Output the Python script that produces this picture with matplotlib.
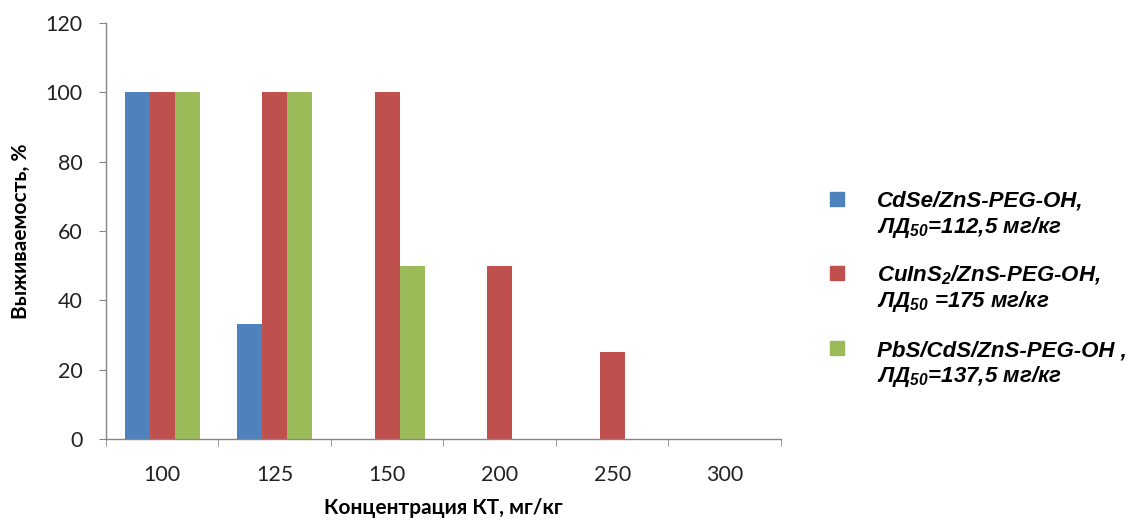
import matplotlib
matplotlib.use("Agg")
import matplotlib.pyplot as plt
import numpy as np
from matplotlib.patches import Rectangle

# survival per dose group
doses = ["100", "125", "150", "200", "250", "300"]
cdse = [100, 33.3, 0, 0, 0, 0]
cuins = [100, 100, 100, 50, 25, 0]
pbs = [100, 100, 50, 0, 0, 0]

series_colors = ["#4F81BD", "#C0504D", "#9BBB59"]
series_labels = [
    ("CdSe/ZnS-PEG-OH,", "ЛД$_{50}$=112,5 мг/кг"),
    ("CuInS$_2$/ZnS-PEG-OH,", "ЛД$_{50}$ =175 мг/кг"),
    ("PbS/CdS/ZnS-PEG-OH ,", "ЛД$_{50}$=137,5 мг/кг"),
]

plt.rcParams["mathtext.fontset"] = "custom"
plt.rcParams["mathtext.rm"] = "Liberation Sans:bold:italic"
plt.rcParams["mathtext.it"] = "Liberation Sans:bold:italic"
plt.rcParams["mathtext.bf"] = "Liberation Sans:bold:italic"

axis_gray = "#868686"
tick_font = "Lato"

fig = plt.figure(figsize=(11.48, 5.24), dpi=100)
ax = fig.add_axes([0.0923, 0.1622, 0.588, 0.794])

x = np.arange(len(doses))
w = 2 / 9
for k, (vals, col) in enumerate(zip([cdse, cuins, pbs], series_colors)):
    ax.bar(x + (k - 1) * w, vals, width=w, color=col, zorder=2)

ax.set_xlim(-0.5, len(doses) - 0.5)
ax.set_ylim(0, 120)
ax.set_yticks(np.arange(0, 121, 20))
ax.set_xticks(x)
ax.set_xticklabels(doses)
ax.set_xticks(np.arange(-0.5, len(doses)), minor=True)

for s in ["top", "right"]:
    ax.spines[s].set_visible(False)
for s in ["left", "bottom"]:
    ax.spines[s].set_color(axis_gray)
    ax.spines[s].set_linewidth(1.0)

ax.tick_params(axis="x", which="major", length=0, pad=19, labelsize=15.5, labelcolor="#222222")
ax.tick_params(axis="x", which="minor", length=5, color=axis_gray)
ax.tick_params(axis="y", length=5, color=axis_gray, pad=12, labelsize=15.5, labelcolor="#222222")
for lbl in ax.get_xticklabels() + ax.get_yticklabels():
    lbl.set_fontfamily(tick_font)

ax.set_ylabel("Выживаемость, %", fontsize=15, fontweight="bold", family=tick_font, labelpad=10)
ax.set_xlabel("Концентрация КТ, мг/кг", fontsize=15, fontweight="bold", family=tick_font, labelpad=9)

# legend drawn by hand so the swatch sits on the first line of text
ys = [199, 273, 348]
for (l1, l2), col, yp in zip(series_labels, series_colors, ys):
    fy = 1 - yp / 524
    fig.add_artist(Rectangle((830 / 1148, fy - 7 / 524), 14 / 1148, 14 / 524,
                             transform=fig.transFigure, color=col))
    for line, base in [(l1, yp + 8), (l2, yp + 34)]:
        fig.text(877 / 1148, 1 - base / 524, line, fontsize=16, fontweight="bold",
                 style="italic", family="Liberation Sans", va="baseline", ha="left")

fig.savefig("out.png", dpi=100)
